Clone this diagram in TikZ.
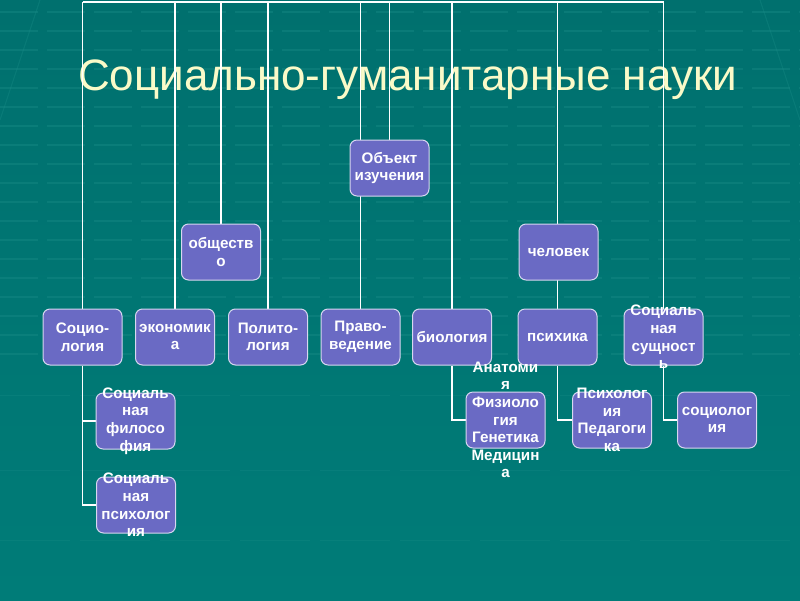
\documentclass[tikz,border=0pt]{standalone}
\usepackage{fontspec}
\setmainfont{Liberation Sans}
\definecolor{bgtop}{RGB}{0,112,110}
\definecolor{bgbot}{RGB}{0,124,120}
\definecolor{stripe}{RGB}{25,140,135}
\definecolor{boxfill}{RGB}{106,106,196}
\definecolor{boxline}{RGB}{215,215,240}
\definecolor{titlecol}{RGB}{250,250,200}
\pgfdeclarelayer{back}
\pgfdeclarelayer{mid}
\pgfsetlayers{back,mid,main}
\tikzset{
  box/.style={draw=boxline, fill=boxfill, line width=1pt, rounded corners=7pt,
    minimum width=79pt, minimum height=56pt, inner sep=0pt},
  txt/.style={text=white, align=center, inner sep=0pt,
    font=\fontsize{15.2}{17.6}\selectfont\bfseries},
  conn/.style={draw=white, line width=1.8pt},
}
\begin{document}
\begin{tikzpicture}[x=1pt,y=-1pt]
\useasboundingbox (0,0) rectangle (800,600);

% boxes
\path
  (389.5,168) node[box] (obj) {}
  (221,252)   node[box] (obsh) {}
  (558.5,252) node[box] (chel) {}
  (82.5,337)  node[box] (soc) {}
  (175,337)   node[box] (econ) {}
  (268,337)   node[box] (polit) {}
  (360.5,337) node[box] (pravo) {}
  (452,337)   node[box] (bio) {}
  (557.5,337) node[box] (psy) {}
  (663.5,337) node[box] (sush) {}
  (135.5,421) node[box] (sphil) {}
  (136,505)   node[box] (spsy) {}
  (505.5,420) node[box] (fiz) {}
  (612,420)   node[box] (psped) {}
  (717,420)   node[box] (sociol) {};

% texts
\node[txt] (obj-t)    at (obj)    {Объект\\изучения};
\node[txt] (obsh-t)   at (obsh)   {обществ\\о};
\node[txt] (chel-t)   at (chel)   {человек};
\node[txt] (soc-t)    at (soc)    {Социо-\\логия};
\node[txt] (econ-t)   at (econ)   {экономик\\а};
\node[txt] (polit-t)  at (polit)  {Полито-\\логия};
\node[txt] (pravo-t)  at (pravo)  {Право-\\ведение};
\node[txt] (bio-t)    at (bio)    {биология};
\node[txt] (psy-t)    at (psy)    {психика};
\node[txt] (sush-t)   at (sush)   {Социаль\\ная\\сущност\\ь};
\node[txt] (sphil-t)  at (sphil)  {Социаль\\ная\\филосо\\фия};
\node[txt] (spsy-t)   at (spsy)   {Социаль\\ная\\психолог\\ия};
\node[txt] (fiz-t)    at (fiz)    {Анатоми\\я\\Физиоло\\гия\\Генетика\\Медицин\\а};
\node[txt] (psped-t)  at (psped)  {Психолог\\ия\\Педагоги\\ка};
\node[txt] (sociol-t) at (sociol) {социолог\\ия};

\coordinate (bar) at (0,2);

\begin{pgfonlayer}{mid}
  \draw[conn] (soc.north |- bar) -- (sush.north |- bar);
  \foreach \n in {soc,econ,obsh,polit,pravo,obj,bio,psy,sush}
    \draw[conn] (\n.north) -- (\n.north |- bar);
  \draw[conn] (soc.south) |- (sphil.west);
  \draw[conn] (soc.south) |- (spsy.west);
  \draw[conn] (bio.south) |- (fiz.west);
  \draw[conn] (psy.south) |- (psped.west);
  \draw[conn] (sush.south) |- (sociol.west);
\end{pgfonlayer}

\begin{pgfonlayer}{back}
\shade[top color=bgtop, bottom color=bgbot] (0,0) rectangle (800,600);
\foreach \yy in {12,31,50,69,88,107,126,145,164,183,202,221,240,259,278,297,316,335,354}
  \draw[stripe, line width=1.2pt, dash pattern=on 38pt off 9pt, opacity=0.4] (0,\yy) -- (800,\yy);
\foreach \yy in {395,470,540}
  \draw[stripe, line width=1pt, dash pattern=on 70pt off 10pt, opacity=0.3] (0,\yy) -- (800,\yy);
\draw[stripe, line width=1pt, opacity=0.35] (40,0) -- (0,120);
\draw[stripe, line width=1pt, opacity=0.35] (760,0) -- (800,120);
\node[anchor=base, text=titlecol, inner sep=0pt, font=\fontsize{44}{50}\selectfont] (title) at (407.5,90) {Социально-гуманитарные науки};
\end{pgfonlayer}
\end{tikzpicture}
\end{document}
